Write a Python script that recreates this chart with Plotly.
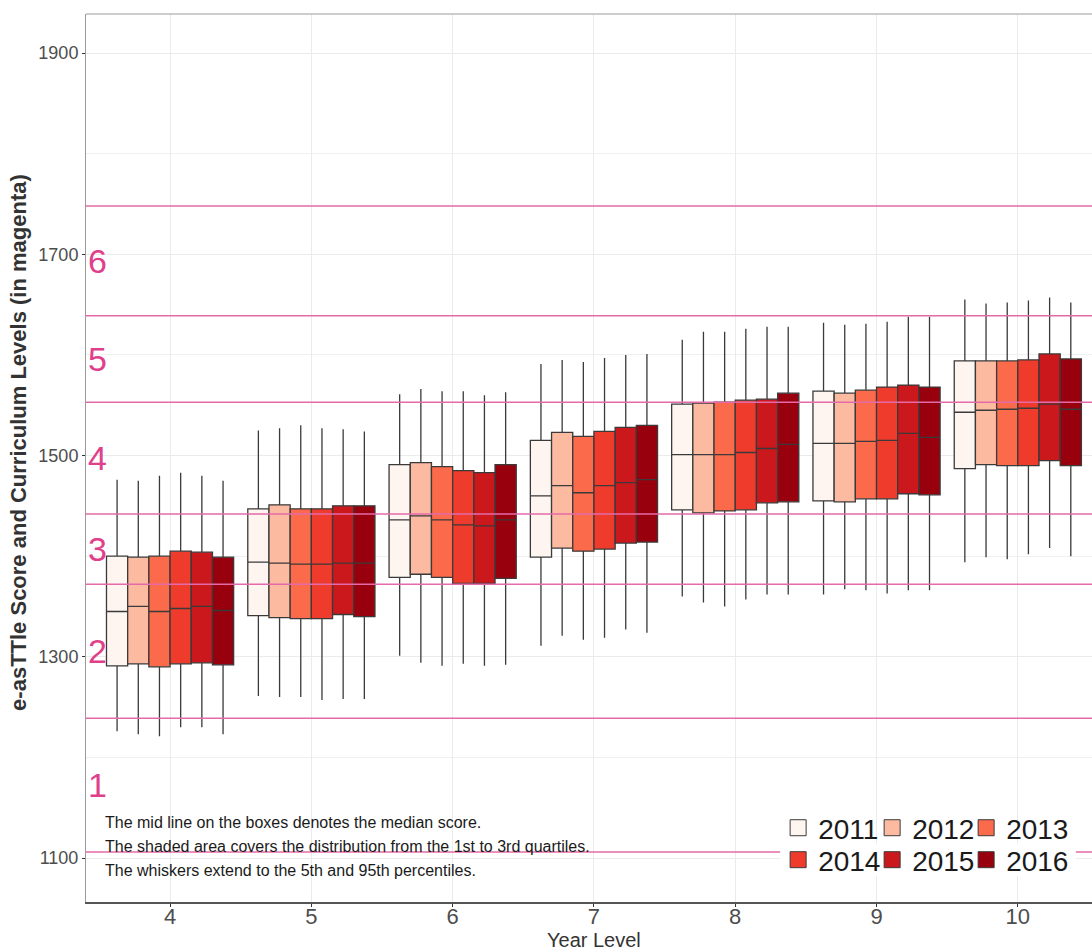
import plotly.graph_objects as go

# e-asTTle score distributions by year level and cohort year
year_levels = [4, 5, 6, 7, 8, 9, 10]
cohorts = ["2011", "2012", "2013", "2014", "2015", "2016"]
cohort_colors = ["#fff5f0", "#fcbba1", "#fb6a4a", "#ef3b2c", "#cb181d", "#99000d"]

# Rows: year level 4..10; columns: cohorts 2011..2016
p5 = [
    [1226, 1223, 1221, 1230, 1230, 1223],
    [1261, 1260, 1260, 1257, 1258, 1258],
    [1301, 1294, 1291, 1293, 1291, 1292],
    [1311, 1321, 1317, 1319, 1327, 1324],
    [1360, 1354, 1350, 1357, 1362, 1362],
    [1362, 1367, 1366, 1363, 1366, 1366],
    [1394, 1399, 1397, 1402, 1408, 1400],
]
q1 = [
    [1291, 1293, 1290, 1293, 1294, 1292],
    [1341, 1339, 1338, 1338, 1342, 1340],
    [1379, 1382, 1379, 1373, 1373, 1378],
    [1399, 1408, 1405, 1407, 1413, 1414],
    [1446, 1443, 1445, 1446, 1453, 1454],
    [1455, 1454, 1457, 1457, 1462, 1461],
    [1487, 1491, 1490, 1490, 1495, 1490],
]
median = [
    [1345, 1350, 1345, 1348, 1350, 1346],
    [1394, 1393, 1392, 1392, 1393, 1393],
    [1436, 1440, 1436, 1431, 1430, 1436],
    [1460, 1470, 1463, 1470, 1473, 1476],
    [1501, 1501, 1501, 1503, 1507, 1511],
    [1512, 1512, 1514, 1515, 1522, 1518],
    [1543, 1545, 1546, 1547, 1551, 1546],
]
q3 = [
    [1400, 1399, 1400, 1405, 1404, 1399],
    [1447, 1451, 1447, 1447, 1450, 1450],
    [1491, 1493, 1489, 1485, 1483, 1491],
    [1515, 1523, 1519, 1524, 1528, 1530],
    [1551, 1552, 1553, 1555, 1556, 1562],
    [1564, 1562, 1565, 1568, 1570, 1568],
    [1594, 1594, 1594, 1595, 1601, 1596],
]
p95 = [
    [1476, 1475, 1480, 1483, 1480, 1475],
    [1525, 1527, 1530, 1527, 1526, 1524],
    [1561, 1566, 1564, 1564, 1560, 1563],
    [1591, 1595, 1593, 1597, 1600, 1601],
    [1615, 1623, 1623, 1626, 1628, 1628],
    [1632, 1630, 1631, 1633, 1638, 1638],
    [1655, 1651, 1652, 1654, 1657, 1652],
]

# Curriculum level boundaries (score cut-offs) and level names
level_cutoffs = [1106, 1239, 1372, 1442, 1553, 1639, 1748]
level_names = ["1", "2", "3", "4", "5", "6"]

y_ticks = [1100, 1300, 1500, 1700, 1900]
y_minor = [1200, 1400, 1600, 1800]

notes = [
    "The mid line on the boxes denotes the median score.",
    "The shaded area covers the distribution from the 1st to 3rd quartiles.",
    "The whiskers extend to the 5th and 95th percentiles.",
]

FONT = "Liberation Sans, Arial, sans-serif"
MAGENTA_LINE = "#e46aaa"
MAGENTA_TEXT = "#e0408a"

fig = go.Figure()

for i, cohort in enumerate(cohorts):
    fig.add_trace(go.Box(
        x=year_levels,
        lowerfence=[row[i] for row in p5],
        q1=[row[i] for row in q1],
        median=[row[i] for row in median],
        q3=[row[i] for row in q3],
        upperfence=[row[i] for row in p95],
        name=cohort,
        fillcolor=cohort_colors[i],
        line=dict(color="#3a3a3a", width=1.3),
        whiskerwidth=0,
        boxpoints=False,
        showlegend=False,
    ))

# Legend keys: two rows of three cohorts
for i, cohort in enumerate(cohorts):
    last_in_row = (i % 3 == 2)
    fig.add_trace(go.Scatter(
        x=[None], y=[None], mode="markers", name=cohort,
        marker=dict(symbol="square", size=20, color=cohort_colors[i],
                    line=dict(color="#3a3a3a", width=1)),
        legend="legend" if i < 3 else "legend2",
        legendwidth=None if last_in_row else 49,
        showlegend=True,
    ))

shapes = []
for c in level_cutoffs:
    shapes.append(dict(type="line", xref="paper", x0=0, x1=1, yref="y", y0=c, y1=c,
                       line=dict(color=MAGENTA_LINE, width=1.5), layer="above"))
# white backing behind the legend block
shapes.append(dict(type="rect", xref="paper", x0=0.690, x1=0.984, yref="paper", y0=0.029, y1=0.066,
                   fillcolor="white", line=dict(width=0), layer="above"))
# top border of the panel
shapes.append(dict(type="line", xref="paper", x0=0, x1=1, yref="paper", y0=1, y1=1,
                   line=dict(color="#9a9a9a", width=1)))

annotations = []
for k, name in enumerate(level_names):
    mid = (level_cutoffs[k] + level_cutoffs[k + 1]) / 2
    annotations.append(dict(text=name, xref="paper", x=0, xanchor="left", yref="y", y=mid,
                            yanchor="middle", showarrow=False,
                            font=dict(family=FONT, size=34, color=MAGENTA_TEXT)))

note_y = [0.089, 0.062, 0.035]
for t, yy in zip(notes, note_y):
    annotations.append(dict(text=t, xref="paper", x=0.0165, xanchor="left", yref="paper", y=yy,
                            yanchor="middle", showarrow=False,
                            font=dict(family=FONT, size=16, color="#1a1a1a")))

annotations.append(dict(text="Year Level", xref="x", x=7, xanchor="center", yref="paper", y=0,
                        yshift=-38, yanchor="middle", showarrow=False,
                        font=dict(family=FONT, size=20, color="#333333")))
annotations.append(dict(text="<b>e-asTTle Score and Curriculum Levels (in magenta)</b>",
                        xref="paper", x=-0.0666, xanchor="center", yref="paper", y=0.517,
                        yanchor="middle", textangle=-90, showarrow=False,
                        font=dict(family=FONT, size=22, color="#333333")))

legend_style = dict(orientation="h", xanchor="left", yanchor="middle",
                    bgcolor="rgba(0,0,0,0)", borderwidth=0,
                    font=dict(family=FONT, size=28, color="#1a1a1a"),
                    itemwidth=30, tracegroupgap=0)

fig.update_layout(
    width=1092, height=952,
    margin=dict(l=86, r=0, t=14, b=50),
    plot_bgcolor="white", paper_bgcolor="white",
    boxmode="group", boxgap=0.1, boxgroupgap=0,
    font=dict(family=FONT),
    shapes=shapes, annotations=annotations,
    legend=dict(x=0.688, y=0.0833, **legend_style),
    legend2=dict(x=0.688, y=0.0473, **legend_style),
    xaxis=dict(
        range=[3.405, 10.525], tickvals=year_levels, ticks="outside", ticklen=3,
        tickcolor="#333333", showline=True, linecolor="#555555", linewidth=1.5,
        showgrid=True, gridcolor="#ebebeb", zeroline=False,
        tickfont=dict(family=FONT, size=22, color="#4d4d4d"),
        ticklabelstandoff=-9,
    ),
    yaxis=dict(
        range=[1056.3, 1938.8], tickvals=y_ticks, ticks="outside", ticklen=3,
        tickcolor="#333333", showline=True, linecolor="#9a9a9a", linewidth=1,
        showgrid=True, gridcolor="#ebebeb", zeroline=False,
        minor=dict(tickvals=y_minor, showgrid=True, gridcolor="#f0f0f0", ticks=""),
        tickfont=dict(family=FONT, size=18, color="#4d4d4d"),
    ),
)

fig.write_html("out.html")
